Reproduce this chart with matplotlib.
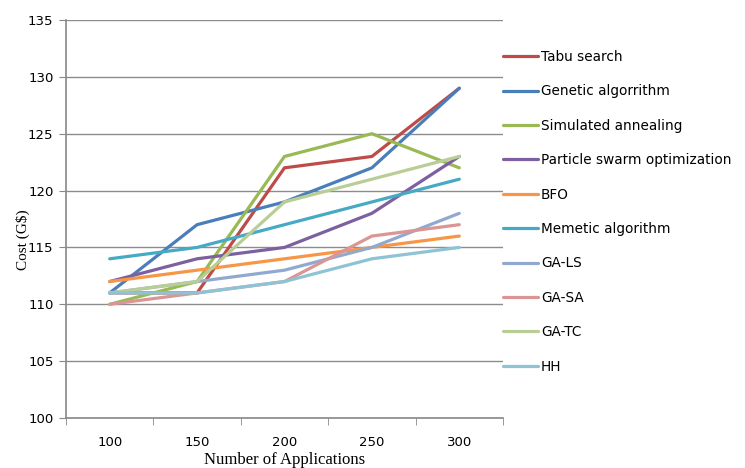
import matplotlib.pyplot as plt
import numpy as np

# data
apps = ['100', '150', '200', '250', '300']
series_names = ['Tabu search', 'Genetic algorrithm', 'Simulated annealing',
                'Particle swarm optimization', 'BFO', 'Memetic algorithm',
                'GA-LS', 'GA-SA', 'GA-TC', 'HH']
tabu = [111, 111, 122, 123, 129]
genetic = [111, 117, 119, 122, 129]
annealing = [110, 112, 123, 125, 122]
pso = [112, 114, 115, 118, 123]
bfo = [112, 113, 114, 115, 116]
memetic = [114, 115, 117, 119, 121]
ga_ls = [111, 112, 113, 115, 118]
ga_sa = [110, 111, 112, 116, 117]
ga_tc = [111, 112, 119, 121, 123]
hh = [111, 111, 112, 114, 115]
series_values = [tabu, genetic, annealing, pso, bfo, memetic, ga_ls, ga_sa, ga_tc, hh]
colors = ['#BE4B48', '#4A7EBB', '#98B954', '#7D60A0', '#F79646',
          '#46AAC5', '#92A9CF', '#D99694', '#B9CD96', '#8EC3D6']

fig = plt.figure(figsize=(7.45, 4.68), dpi=100)
ax = fig.add_axes([66 / 745, 1 - 418 / 468, (503 - 66) / 745, (418 - 20) / 468])

x = np.arange(len(apps))
for name, vals, c in zip(series_names, series_values, colors):
    ax.plot(x, vals, color=c, lw=2.3, label=name, solid_capstyle='round', solid_joinstyle='miter')

ax.set_xlim(-0.5, len(apps) - 0.5)
ax.set_ylim(100, 135)
ax.set_yticks(np.arange(100, 136, 5))
ax.set_xticks(x)
ax.set_xticklabels(apps)
ax.set_xticks(np.arange(-0.5, len(apps), 1), minor=True)
ax.tick_params(axis='x', which='major', length=0, pad=13, labelsize=9.5)
ax.tick_params(axis='x', which='minor', length=5, color='#888888', direction='out')
ax.tick_params(axis='y', length=5, color='#888888', labelsize=9.5, pad=4)
for lab in ax.get_xticklabels() + ax.get_yticklabels():
    lab.set_family('DejaVu Sans')

ax.grid(axis='y', color='#8c8c8c', lw=1)
ax.set_axisbelow(True)
for s in ['top', 'right']:
    ax.spines[s].set_visible(False)
ax.spines['left'].set_color('#888888')
ax.spines['bottom'].set_color('#888888')
ax.spines['left'].set_linewidth(1.2)
ax.spines['bottom'].set_linewidth(1.2)

ax.set_xlabel('Number of Applications', family='Liberation Serif', fontsize=12)
ax.set_ylabel('Cost (G$)', family='Liberation Serif', fontsize=11)
ax.xaxis.set_label_coords(0.5, -0.085)
ax.yaxis.set_label_coords(-0.082, 0.447)

ax.legend(loc='upper left', bbox_to_anchor=(1.0, 0.925), frameon=False,
          fontsize=9.8, handlelength=2.6, handletextpad=0.2, labelspacing=1.5,
          borderaxespad=0, borderpad=0)

fig.savefig('out.png', dpi=100)
